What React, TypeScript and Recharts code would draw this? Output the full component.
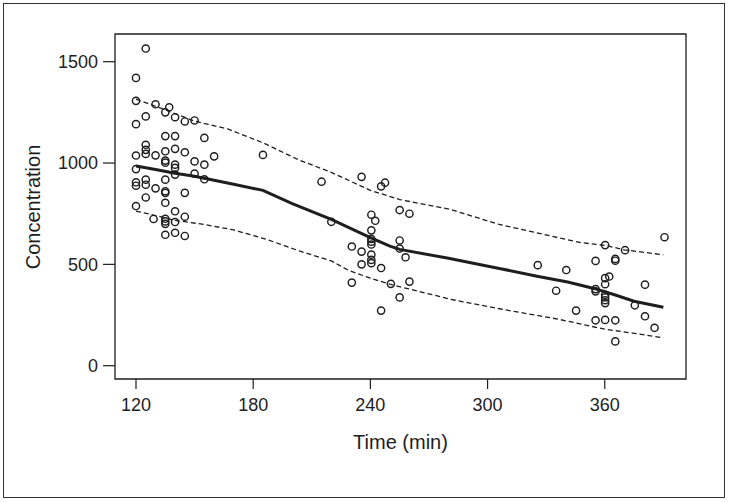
import React from 'react';
import { ComposedChart, Scatter, Line, XAxis, YAxis, ReferenceArea, Customized } from 'recharts';

// Observed concentrations (time in min, concentration)
const obsTime = [
  120, 120, 120, 120, 120, 120, 120, 120,
  125, 125, 125, 125, 125, 125, 125, 125,
  130, 130, 130, 129,
  135, 135, 135, 135, 135, 135, 135, 135, 135, 135, 135, 135, 135,
  137,
  140, 140, 140, 140, 140, 140, 140, 140, 140,
  145, 145, 145, 145, 145,
  150, 150, 150,
  155, 155, 155,
  160, 185,
  215, 220, 230.5, 230.5, 235.5, 235.5, 235.5,
  240.5, 240.5, 240.5, 240.5, 240.5, 240.5, 240.5, 240.5,
  242.5, 245.5, 245.5, 245.5, 247.5, 250.5,
  255, 255, 255, 255, 258, 260, 260,
  325.7, 335.1, 340.3, 345.3,
  355.3, 355.3, 355.3, 355.3,
  360.2, 360.2, 360.2, 360.2, 360.2, 360.2, 360.2, 360.2,
  362.3, 365.4, 365.4, 365.4, 365.4,
  370.4, 375.4, 380.6, 380.6, 385.5, 390.6,
];
const obsConc = [
  1420, 1307, 1192, 1037, 970, 905, 888, 788,
  1565, 1230, 1090, 1065, 1045, 918, 893, 830,
  1290, 1038, 875, 724,
  1250, 1133, 1058, 1012, 1002, 918, 861, 853, 804, 725, 712, 700, 646,
  1275,
  1226, 1133, 1070, 992, 976, 943, 762, 709, 656,
  1205, 1053, 853, 735, 640,
  1210, 1008, 948,
  1124, 992, 920,
  1033, 1040,
  908, 710, 588, 410, 932, 563, 500,
  745, 668, 625, 612, 598, 548, 522, 506,
  715, 885, 482, 272, 903, 404,
  768, 618, 578, 337, 535, 750, 415,
  496, 370, 472, 272,
  517, 378, 367, 224,
  595, 432, 402, 350, 337, 323, 309, 226,
  440, 527, 518, 224, 120,
  570, 298, 400, 244, 187, 634,
];

// Median prediction (solid)
const medianTime = [120, 130, 140, 150, 160, 170, 185, 200, 220, 240, 250, 255, 280, 306, 326, 341, 355, 365, 375, 390];
const medianConc = [985, 968, 950, 935, 915, 895, 865, 800, 722, 632, 590, 574, 530, 480, 440, 413, 380, 350, 318, 288];

// Upper prediction limit (dashed)
const upperTime = [120, 135, 150, 167, 185, 203, 220, 240, 255, 281, 306, 336, 348, 360, 370, 390];
const upperConc = [1315, 1262, 1207, 1168, 1100, 1017, 954, 865, 820, 771, 697, 632, 607, 594, 572, 547];

// Lower prediction limit (dashed)
const lowerTime = [120, 130, 140, 155, 170, 187, 204, 220, 229, 240, 250, 281, 306, 336, 360, 375, 390];
const lowerConc = [763, 741, 717, 697, 670, 623, 565, 517, 470, 432, 402, 328, 281, 230, 180, 160, 138];

const xTicks = [120, 180, 240, 300, 360];
const yTicks = [0, 500, 1000, 1500];
const xDomain = [109.25, 401.6];
const yDomain = [-65.6, 1636.7];

const obsData = obsTime.map((t, i) => ({ t, v: obsConc[i] }));
const medianData = medianTime.map((t, i) => ({ t, v: medianConc[i] }));
const upperData = upperTime.map((t, i) => ({ t, v: upperConc[i] }));
const lowerData = lowerTime.map((t, i) => ({ t, v: lowerConc[i] }));

const FONT = '"Liberation Sans", Arial, Helvetica, sans-serif';
const INK = '#1e1e1e';

const OpenCircle = (props: any) => {
  const { cx, cy } = props;
  if (cx == null || cy == null) return null;
  return <circle cx={cx} cy={cy} r={3.6} fill="none" stroke={INK} strokeWidth={1.45} />;
};

const Titles = () => (
  <g>
    <text x={400.5} y={442} textAnchor="middle" dominantBaseline="central" fontSize={20} fontFamily={FONT} fill={INK}>
      Time (min)
    </text>
    <text
      x={33}
      y={207}
      textAnchor="middle"
      dominantBaseline="central"
      fontSize={20}
      fontFamily={FONT}
      fill={INK}
      transform="rotate(-90, 33, 207)"
    >
      Concentration
    </text>
  </g>
);

export default function App() {
  return (
    <div style={{ position: 'absolute', left: 0, top: 0, width: 729, height: 502, background: '#fff' }}>
      <div
        style={{
          position: 'absolute',
          left: 3,
          top: 3,
          width: 722,
          height: 495,
          border: '1.5px solid #333',
          boxSizing: 'border-box',
        }}
      />
      <div style={{ position: 'absolute', left: 0, top: 0 }}>
        <ComposedChart width={729} height={502} margin={{ top: 34, right: 43, left: 0, bottom: 83 }}>
          <XAxis
            dataKey="t"
            type="number"
            domain={xDomain}
            ticks={xTicks}
            allowDataOverflow
            height={40}
            axisLine={false}
            tickLine={{ stroke: INK, strokeWidth: 1.2 }}
            tickSize={10}
            tickMargin={9}
            tick={{ fill: INK, fontSize: 18, fontFamily: FONT }}
          />
          <YAxis
            dataKey="v"
            type="number"
            domain={yDomain}
            ticks={yTicks}
            allowDataOverflow
            width={115}
            axisLine={false}
            tickLine={{ stroke: INK, strokeWidth: 1.2 }}
            tickSize={12}
            tickMargin={5}
            tick={{ fill: INK, fontSize: 18, fontFamily: FONT }}
          />
          <ReferenceArea
            x1={xDomain[0]}
            x2={xDomain[1]}
            y1={yDomain[0]}
            y2={yDomain[1]}
            fill="none"
            fillOpacity={0}
            stroke={INK}
            strokeWidth={1.3}
            ifOverflow="visible"
          />
          <Line data={upperData} dataKey="v" type="linear" dot={false} stroke={INK} strokeWidth={1.3} strokeDasharray="5 3" isAnimationActive={false} />
          <Line data={lowerData} dataKey="v" type="linear" dot={false} stroke={INK} strokeWidth={1.3} strokeDasharray="5 3" isAnimationActive={false} />
          <Line data={medianData} dataKey="v" type="linear" dot={false} stroke={INK} strokeWidth={3} isAnimationActive={false} />
          <Scatter data={obsData} dataKey="v" shape={<OpenCircle />} isAnimationActive={false} />
          <Customized component={<Titles />} />
        </ComposedChart>
      </div>
    </div>
  );
}
